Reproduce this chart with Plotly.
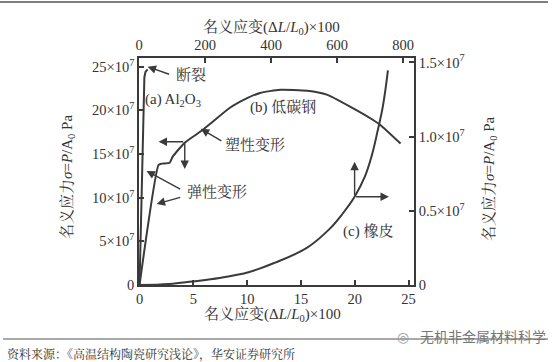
import plotly.graph_objects as go

# ---- data (stress in units of 10^7 Pa) ----
al2o3_strain = [0, 0.45, 0.55, 0.75]
al2o3_stress = [0, 23.8, 24.4, 24.7]

steel_strain = [0, 1.77, 2.05, 2.8, 3.08, 4.2, 5.76, 6.8, 8.4, 10.0, 11.2, 13.06, 15.6, 17.4, 19.6, 21.7, 22.4, 24.25]
steel_stress = [0, 13.76, 13.9, 14.0, 14.7, 16.3, 17.66, 18.7, 20.3, 21.4, 22.0, 22.36, 22.25, 21.8, 20.4, 18.9, 18.3, 16.2]

rubber_strain = [0, 91, 161, 243, 334, 410, 508, 578, 617, 653, 684, 705, 723, 739, 754]
rubber_stress = [0, 0.007, 0.024, 0.047, 0.088, 0.149, 0.25, 0.38, 0.482, 0.595, 0.730, 0.872, 1.041, 1.209, 1.446]

bottom_ticks = [0, 5, 10, 15, 20, 25]
top_ticks = [0, 200, 400, 600, 800]
left_ticks = [0, 5, 10, 15, 20, 25]
left_labels = ["0", "5×10<sup>7</sup>", "10×10<sup>7</sup>", "15×10<sup>7</sup>", "20×10<sup>7</sup>", "25×10<sup>7</sup>"]
right_ticks = [0, 0.5, 1.0, 1.5]
right_labels = ["0", "0.5×10<sup>7</sup>", "1.0×10<sup>7</sup>", "1.5×10<sup>7</sup>"]

LC = "#3a3a3a"
SERIF = "Liberation Serif, Noto Serif CJK SC, Noto Sans CJK SC, serif"

fig = go.Figure()
fig.add_trace(go.Scatter(x=al2o3_strain, y=al2o3_stress, mode="lines",
                         line=dict(color=LC, width=2), xaxis="x", yaxis="y"))
fig.add_trace(go.Scatter(x=steel_strain, y=steel_stress, mode="lines",
                         line=dict(color=LC, width=2, shape="spline", smoothing=0.5), xaxis="x", yaxis="y"))
fig.add_trace(go.Scatter(x=rubber_strain, y=rubber_stress, mode="lines",
                         line=dict(color=LC, width=2, shape="spline", smoothing=1.1), xaxis="x2", yaxis="y2"))

axis_common = dict(showline=True, linecolor=LC, linewidth=1.5, ticks="inside", ticklen=5,
                   tickcolor=LC, tickwidth=1.5, showgrid=False, zeroline=False,
                   tickfont=dict(family=SERIF, size=14.5, color="#333"))

fig.update_layout(
    width=554, height=362,
    margin=dict(l=139, r=140, t=58, b=77),
    paper_bgcolor="white", plot_bgcolor="white",
    showlegend=False,
    xaxis=dict(range=[-0.05, 25.5], tickvals=bottom_ticks, **axis_common),
    xaxis2=dict(range=[-0.5, 833], tickvals=top_ticks, overlaying="x", side="top", **axis_common),
    yaxis=dict(range=[0, 26.0], tickvals=left_ticks, ticktext=left_labels, **axis_common),
    yaxis2=dict(range=[0, 1.53], tickvals=right_ticks, ticktext=right_labels, overlaying="y", side="right", **axis_common),
)

# arrows (tail -> tip) in bottom/left data space
arrows = [
    ((2.89, 24.08), (0.75, 25.0)),
    ((7.74, 16.4), (5.69, 17.89)),
    ((4.2, 16.4), (1.77, 16.4)),
    ((4.2, 16.4), (4.2, 13.3)),
    ((3.92, 10.89), (0.65, 13.07)),
    ((3.92, 10.09), (1.59, 9.29)),
]
for (tx, ty), (hx, hy) in arrows:
    fig.add_annotation(x=hx, y=hy, ax=tx, ay=ty, xref="x", yref="y", axref="x", ayref="y",
                       text="", showarrow=True, arrowhead=2, arrowsize=1.2, arrowwidth=1.4, arrowcolor=LC)

# rubber arrows in top/right data space
for (hx, hy) in [(653, 0.83), (757, 0.595)]:
    fig.add_annotation(x=hx, y=hy, ax=653, ay=0.595, xref="x2", yref="y2", axref="x2", ayref="y2",
                       text="", showarrow=True, arrowhead=2, arrowsize=1.2, arrowwidth=1.4, arrowcolor=LC)

labels = [
    ("断裂", 4.76, 24.08),
    ("(a) Al<sub>2</sub>O<sub>3</sub>", 3.08, 21.2),
    ("(b) 低碳钢", 13.34, 20.3),
    ("塑性变形", 10.73, 16.06),
    ("弹性变形", 7.18, 10.67),
    ("(c) 橡皮", 21.18, 6.08),
]
for t, x, y in labels:
    fig.add_annotation(x=x, y=y, xref="x", yref="y", text=t, showarrow=False,
                       xanchor="center", yanchor="middle",
                       font=dict(family=SERIF, size=15, color="#333"))

title_font = dict(family=SERIF, size=15, color="#333")
ax_title = "名义应变(Δ<i>L</i>/<i>L</i><sub>0</sub>)×100"
def paper_note(text, x, y, **kw):
    opts = dict(xref="paper", yref="paper", showarrow=False, xanchor="center", yanchor="middle")
    opts.update(kw)
    fig.add_annotation(x=x, y=y, text=text, **opts)

paper_note(ax_title, 0.48, 1.13, font=title_font)
paper_note(ax_title, 0.484, -0.132, font=title_font)
y_title = "名义应力<i>σ</i>=<i>P</i>/A<sub>0</sub> Pa"
paper_note(y_title, -0.258, 0.476, textangle=-90, font=title_font)
paper_note(y_title, 1.276, 0.467, textangle=-90, font=title_font)

# frame lines of the page
fig.add_shape(type="line", xref="paper", yref="paper", x0=-139/275, x1=(548-139)/275,
              y0=(285-2)/227, y1=(285-2)/227, line=dict(color="#555", width=1.5))
fig.add_shape(type="line", xref="paper", yref="paper", x0=(3-139)/275, x1=(548-139)/275,
              y0=(285-339)/227, y1=(285-339)/227, line=dict(color="#555", width=1.2))

paper_note("资料来源：《高温结构陶瓷研究浅论》，华安证券研究所", (5-139)/275, (285-353)/227,
           xanchor="left", font=dict(family="Noto Serif CJK SC, Noto Sans CJK SC, serif", size=12, color="#333"))
paper_note("无机非金属材料科学", (418-139)/275, (285-336)/227, xanchor="left",
           font=dict(family="Noto Sans CJK SC, sans-serif", size=14, color="#777"))
paper_note("◎", (403-139)/275, (285-336)/227, font=dict(size=14, color="#999"))

fig.write_html("out.html", config={"displayModeBar": False},
               post_script="document.body.style.margin='0';")
